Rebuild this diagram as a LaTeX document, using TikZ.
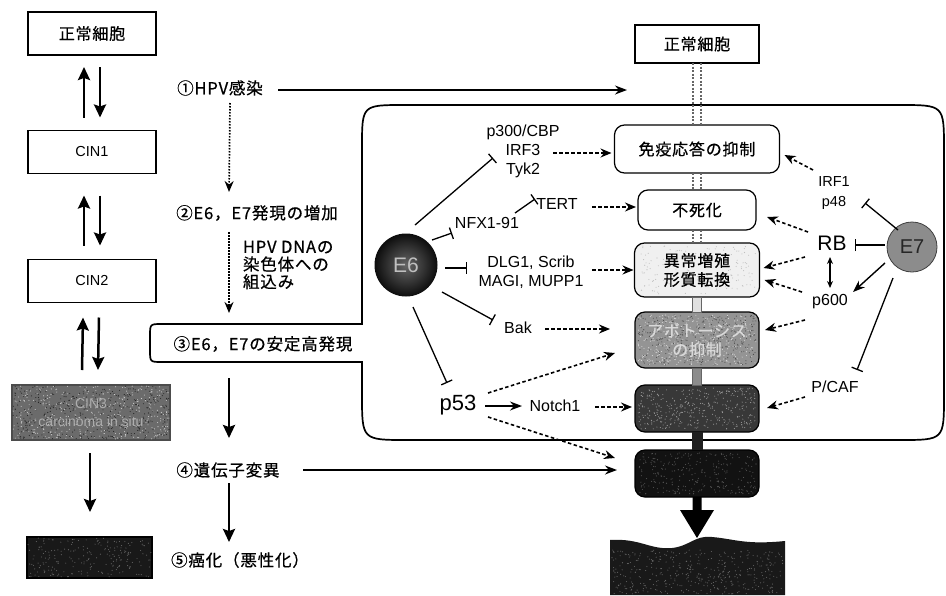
\documentclass[tikz,border=0pt]{standalone}
\usepackage{fontspec}
\setmainfont{Liberation Sans}
\newfontfamily\jp{Noto Sans CJK JP}[LetterSpace=5,FakeBold=0.6]
\usetikzlibrary{arrows.meta,calc}
\newcommand\myspeck[6]{%
  \foreach \i in {1,...,#6} {\fill[#5] ({#1+rnd*(#3-#1)},{#2+rnd*(#4-#2)}) circle (0.55pt);}}
\begin{document}
\begin{tikzpicture}[x=1pt,y=-1pt,
  every node/.style={inner sep=0pt, outer sep=0pt},
  lbox/.style={draw, line width=1.1pt, minimum width=128pt, minimum height=43pt, font=\jp\fontsize{16}{18}\selectfont},
  cbox/.style={draw, line width=1.2pt, rounded corners=10pt, font=\jp\fontsize{16}{19}\selectfont, align=center},
  labtxt/.style={font=\fontsize{16}{19}\selectfont, align=center},
  bigtxt/.style={font=\fontsize{22}{24}\selectfont},
  midtxt/.style={font=\jp\fontsize{16.5}{17.5}\selectfont},
  updown/.style={line width=2.5pt, -{Stealth[length=13pt,width=12pt,inset=2pt]}},
  sol/.style={line width=1.4pt, -{Stealth[length=12pt,width=9pt]}},
  dsharr/.style={line width=1.6pt, dash pattern=on 3.5pt off 2.5pt, -{Stealth[length=11pt,width=9pt]}},
  dotarr/.style={line width=1.7pt, dash pattern=on 1.5pt off 1.5pt, -{Stealth[length=11pt,width=9pt]}},
  inh/.style={line width=1.3pt, -{Bar[width=12pt]}},
  pipedot/.style={line width=1.1pt, draw=black!60, dash pattern=on 2pt off 1.5pt},
]
\pgfmathsetseed{42}
\useasboundingbox (0,0) rectangle (946,595);
\fill[white] (0,0) rectangle (946,595);

% big frame with tab
\draw[line width=1.7pt] (362,324) -- (362,147) .. controls (362,105) .. (404,105) -- (900,105)
  .. controls (944,105) .. (944,149) -- (944,396) .. controls (944,440) .. (900,440) -- (407,440)
  .. controls (362,440) .. (362,395) -- (362,362) -- (162,362) .. controls (150,362) .. (150,350)
  -- (150,336) .. controls (150,324) .. (162,324) -- cycle;

% left column
\node[lbox] (n0) at (92,33.5) {正常細胞};
\node[lbox,font=\fontsize{14.5}{17}\selectfont] (cin1) at (92,152) {CIN1};
\node[lbox,font=\fontsize{14.5}{17}\selectfont] (cin2) at (92,281) {CIN2};
\node[lbox,fill=black!58,draw=black!70,minimum width=158pt,minimum height=55pt] (cin3) at (91,412.5) {};
\myspeck{13}{386}{169}{439}{black!85}{450}
\myspeck{13}{386}{169}{439}{white!80!black}{380}
\node[align=center,text=black!32,font=\fontsize{14}{18}\selectfont] (cin3t) at (cin3) {CIN3\\carcinoma in situ};
\node[lbox,fill=black!90,minimum width=125pt,minimum height=41pt] (canL) at (89.5,557.5) {};
\myspeck{28}{538}{151}{577}{black!60}{220}

\draw[updown] ($(cin1.north)+(-8,-13)$) -- ($(n0.south)+(-8,12)$);
\draw[updown] ($(n0.south)+(8,12)$) -- ($(cin1.north)+(8,-13)$);
\draw[updown] ($(cin2.north)+(-8,-14)$) -- ($(cin1.south)+(-8,22)$);
\draw[updown] ($(cin1.south)+(8,22)$) -- ($(cin2.north)+(8,-14)$);
\draw[updown] ($(cin3.north)+(-9,-15)$) -- ($(cin2.south)+(-9,15)$);
\draw[updown] ($(cin2.south)+(7,15)$) -- ($(cin3.north)+(7,-15)$);
\draw[updown] ($(cin3.south)+(-1,13)$) -- ($(canL.north)+(0.5,-25)$);

% middle column
\node[midtxt] (t1) at (220,88) {①HPV感染};
\node[midtxt] (t2) at (257,213) {②E6，E7発現の増加};
\node[midtxt,align=left,anchor=west] (t2b) at (243,265) {HPV DNAの\\染色体への\\組込み};
\node[midtxt] (t3) at (263,344) {③E6，E7の安定高発現};
\node[midtxt] (t4) at (228,470) {④遺伝子変異};
\node[midtxt] (t5) at (240,560) {⑤癌化（悪性化）};
\coordinate (h1) at (627,90);

\draw[sol] ($(t1)+(58,2)$) -- (h1);
\draw[dotarr] ($(t1)+(10,15)$) -- ($(t2)+(-28,-21)$);
\draw[dotarr] ($(t2)+(-28,19)$) -- ($(t3)+(-34,-31)$);
\draw[updown] ($(t3)+(-34,34)$) -- ($(t4)+(1,-32)$);
\draw[updown] ($(t4)+(1,13)$) -- ($(t5)+(-11,-18)$);

% right column boxes
\node[cbox,rounded corners=0pt,minimum width=124pt,minimum height=38pt] (nR) at (697,44) {正常細胞};
\node[cbox,fill=white,minimum width=165pt,minimum height=48pt] (b1) at (697,149) {免疫応答の抑制};
\node[cbox,fill=white,minimum width=118pt,minimum height=40pt] (b2) at (697,210) {不死化};
\node[cbox,fill=black!6,minimum width=125pt,minimum height=54pt] (b3) at (697,270) {};
\myspeck{640}{246}{756}{294}{black!25}{160}
\node[align=center,font=\jp\fontsize{16}{19}\selectfont] (b3t) at (b3) {異常増殖\\形質転換};
\node[cbox,fill=black!42,minimum width=124pt,minimum height=56pt] (b4) at (697,340) {};
\myspeck{638}{315}{756}{365}{black!70}{400}
\myspeck{638}{315}{756}{365}{white!85!black}{350}
\node[align=center,text=black!15,font=\jp\fontsize{16}{19}\selectfont] (b4t) at (b4) {アポトーシス\\の抑制};
\node[cbox,fill=black!78,minimum width=124pt,minimum height=47pt] (b5) at (697,408.5) {};
\myspeck{638}{388}{756}{429}{black!40}{380}
\node[cbox,fill=black!93,minimum width=124pt,minimum height=47pt] (b6) at (697,473.5) {};
\myspeck{638}{453}{756}{494}{black!65}{280}

% pipe between boxes
\foreach \dx in {-4,4} {
  \draw[pipedot] ($(nR.south)+(\dx,0)$) -- ($(b1.north)+(\dx,0)$);
  \draw[pipedot] ($(b1.south)+(\dx,0)$) -- ($(b2.north)+(\dx,0)$);
  \draw[pipedot] ($(b2.south)+(\dx,0)$) -- ($(b3.north)+(\dx,0)$);
}
\filldraw[fill=black!12,draw=black!60,line width=0.8pt] ($(b3.south)+(-4.5,0)$) rectangle ($(b4.north)+(4.5,0)$);
\filldraw[fill=black!45,draw=black!60,line width=0.8pt] ($(b4.south)+(-4.5,0)$) rectangle ($(b5.north)+(4.5,0)$);
\fill[black!88] ($(b5.south)+(-5.5,0)$) rectangle ($(b6.north)+(5.5,0)$);
\fill[black] ($(b6.south)+(-4.5,0)$) -- ($(b6.south)+(-4.5,13)$) -- ($(b6.south)+(-17,13)$)
  -- ($(b6.south)+(0,41)$) -- ($(b6.south)+(17,13)$) -- ($(b6.south)+(4.5,13)$) -- ($(b6.south)+(4.5,0)$) -- cycle;
\fill[black!90] (610,540) .. controls (640,538) and (650,550) .. (672,548)
  .. controls (690,546) and (695,535) .. (712,537)
  .. controls (735,539) and (745,545) .. (785,541) -- (785,595) -- (610,595) -- cycle;
\myspeck{612}{550}{783}{594}{black!60}{420}

% E6 and its targets
\node[circle,minimum size=63pt,shading=radial,inner color=black!60,outer color=black!95,text=black!25,font=\fontsize{21}{21}\selectfont] (E6) at (406,265) {E6};
\node[labtxt] (g1) at (523,151) {p300/CBP\\IRF3\\Tyk2};
\node[labtxt] (nfx) at (487,223) {NFX1-91};
\node[labtxt] (tert) at (557,204) {TERT};
\node[labtxt] (dlg) at (531,272) {DLG1, Scrib\\MAGI, MUPP1};
\node[labtxt] (bak) at (518,328) {Bak};
\node[bigtxt] (p53) at (458,405) {p53};
\node[labtxt] (notch) at (555,406) {Notch1};

\draw[inh] ($(E6)+(9,-40)$) -- ($(g1)+(-30,7)$);
\draw[dsharr] ($(g1)+(30,2)$) -- ($(b1.west)+(-3,4)$);
\draw[inh] ($(E6)+(26,-25)$) -- ($(nfx)+(-35,10)$);
\draw[inh] ($(nfx)+(28,-10)$) -- ($(tert)+(-22,-5)$);
\draw[dsharr] ($(tert)+(35,3)$) -- ($(b2.west)+(-2,-3)$);
\draw[inh] ($(E6)+(39,3)$) -- ($(dlg)+(-64,-4)$);
\draw[dsharr] ($(dlg)+(61,-2)$) -- ($(b3.west)+(-1,0)$);
\draw[inh] ($(E6)+(36,27)$) -- ($(bak)+(-25,-8)$);
\draw[dsharr] ($(bak)+(27,1)$) -- ($(b4.west)+(-25,-11)$);
\draw[inh] ($(E6)+(7,42)$) -- ($(p53)+(-11,-22)$);
\draw[dsharr] ($(p53)+(30,-12)$) -- ($(b4.west)+(-20,13)$);
\draw[sol] ($(p53)+(27,1)$) -- ($(notch)+(-33,0)$);
\draw[dsharr] ($(notch)+(40,1)$) -- ($(b5.west)+(-3,-1.5)$);
\draw[dsharr] ($(p53)+(30,12)$) -- ($(b6.west)+(-20,-15.5)$);
\draw[sol] ($(t4)+(75,0)$) -- ($(b6.west)+(-18,-3.5)$);

% E7 and its targets
\node[circle,draw=black!75,line width=0.8pt,fill=black!45,minimum size=50pt,text=black!85,font=\fontsize{20}{20}\selectfont] (E7) at (912,247) {E7};
\node[labtxt,font=\fontsize{14.5}{20}\selectfont] (irf) at (834,193) {IRF1\\p48};
\node[bigtxt,font=\fontsize{21}{24}\selectfont] (rb) at (832,243) {RB};
\node[labtxt] (p600) at (830,302) {p600};
\node[labtxt] (pcaf) at (835,387) {P/CAF};

\draw[inh] ($(E7)+(-14,-17)$) -- ($(irf)+(31,10)$);
\draw[dsharr] ($(irf)+(-21,-23)$) -- ($(b1.east)+(5,6)$);
\draw[dsharr] ($(rb)+(-24,-11)$) -- ($(b2.east)+(11,7)$);
\draw[inh] ($(E7)+(-27,-2)$) -- ($(rb)+(23,2)$);
\draw[dsharr] ($(rb)+(-27,14)$) -- ($(b3.east)+(4,-2)$);
\draw[line width=1.2pt,{Stealth[length=7pt,width=6pt]}-{Stealth[length=7pt,width=6pt]}] ($(rb)+(-2,14)$) -- ($(p600)+(0,-14)$);
\draw[dsharr] ($(p600)+(-28,-10)$) -- ($(b3.east)+(5,10)$);
\draw[sol] ($(E7)+(-27,16)$) -- ($(p600)+(23,-10)$);
\draw[dsharr] ($(p600)+(-25,18)$) -- ($(b4.east)+(6,-10)$);
\draw[inh] ($(E7)+(-19,31)$) -- ($(pcaf)+(22,-17)$);
\draw[dsharr] ($(pcaf)+(-30,10)$) -- ($(b5.east)+(8,-0.5)$);
\end{tikzpicture}
\end{document}
